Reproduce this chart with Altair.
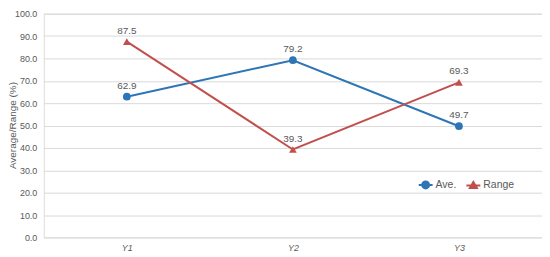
import altair as alt
import pandas as pd

categories = ["Y1", "Y2", "Y3"]
ave_values = [62.9, 79.2, 49.7]
range_values = [87.5, 39.3, 69.3]
series_names = ["Ave.", "Range"]
series_colors = ["#2e75b6", "#c0504d"]
y_ticks = [0, 10, 20, 30, 40, 50, 60, 70, 80, 90, 100]

rows = []
for c, v in zip(categories, ave_values):
    rows.append({"cat": c, "series": "Ave.", "value": v})
for c, v in zip(categories, range_values):
    rows.append({"cat": c, "series": "Range", "value": v})
df = pd.DataFrame(rows)

FONT = "Liberation Sans"
GREY = "#595959"

x_enc = alt.X("cat:N", sort=categories, title=None,
              axis=alt.Axis(labelAngle=0, labelFontStyle="italic", labelFontSize=9,
                            labelColor=GREY, domain=False, ticks=False, grid=False,
                            labelPadding=6, labelFont=FONT))
y_enc = alt.Y("value:Q", title="Average/Range (%)",
              scale=alt.Scale(domain=[0, 100], nice=False),
              axis=alt.Axis(values=y_ticks, format=".1f", labelFontSize=9, labelColor=GREY,
                            domain=False, ticks=False, gridColor="#d9d9d9", labelPadding=7,
                            titleFontSize=10, titleColor=GREY, titleFontWeight="normal",
                            titleFont=FONT, labelFont=FONT, titleX=-31, titleY=112,
                            titleBaseline="middle"))

legend_cfg = alt.Legend(title=None, orient="none", direction="horizontal",
                        legendX=376, legendY=164, symbolSize=196,
                        labelFontSize=10.5, labelColor=GREY, labelFont=FONT,
                        columnPadding=6, symbolStrokeWidth=2, symbolOpacity=1,
                        labelOffset=2)

color_enc = alt.Color("series:N", scale=alt.Scale(domain=series_names, range=series_colors),
                      legend=legend_cfg)

base = alt.Chart(df).encode(x=x_enc, y=y_enc)

legend_shapes = [
    "M-1,0L1,0M-0.5,0A0.5,0.5 0 1,1 0.5,0A0.5,0.5 0 1,1 -0.5,0Z",
    "M-1,0L1,0M0,-0.5L0.5,0.35L-0.5,0.35Z",
]

legend_layer = base.mark_point(filled=True, opacity=0, strokeWidth=2).encode(
    color=color_enc,
    stroke=alt.Stroke("series:N", scale=alt.Scale(domain=series_names, range=series_colors),
                      legend=legend_cfg),
    shape=alt.Shape("series:N", scale=alt.Scale(domain=series_names, range=legend_shapes),
                    legend=legend_cfg),
)

lines = base.mark_line(strokeWidth=2).encode(color=color_enc)
circles = base.mark_point(filled=True, shape="circle", size=60, opacity=1).encode(
    color=color_enc).transform_filter(alt.datum.series == "Ave.")
triangles = base.mark_point(filled=True, shape="triangle-up", size=60, opacity=1).encode(
    color=color_enc).transform_filter(alt.datum.series == "Range")
labels = base.mark_text(dy=-11, fontSize=10, color=GREY, font=FONT).encode(
    text=alt.Text("value:Q", format=".1f"))

chart = alt.layer(legend_layer, lines, circles, triangles, labels).properties(
    width=501, height=225,
    autosize=alt.AutoSizeParams(type="none"),
    padding={"left": 36, "top": 5, "right": 0, "bottom": 19},
).configure_view(stroke=None).configure(font=FONT)

chart.save("out.html", embed_options={"renderer": "svg", "actions": False})
